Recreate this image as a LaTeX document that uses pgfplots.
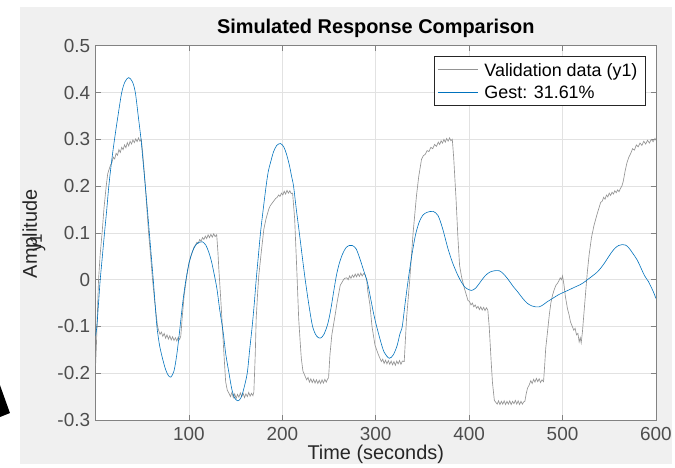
\documentclass[border=0pt]{standalone}
\usepackage{fontspec}
\setmainfont{Liberation Sans}
\usepackage{pgfplots}
\pgfplotsset{compat=1.18}

\definecolor{figbg}{RGB}{240,240,240}
\definecolor{axgray}{RGB}{130,130,130}
\definecolor{ticktext}{RGB}{77,77,77}
\definecolor{labeltext}{RGB}{38,38,38}
\definecolor{gridgray}{RGB}{226,226,226}
\definecolor{valgray}{RGB}{148,148,148}
\definecolor{gestblue}{RGB}{0,114,189}

\begin{document}
\begin{tikzpicture}

% figure window background
\path (0pt,0pt) rectangle (675pt,466pt);
\fill[figbg] (20pt,0pt) rectangle (675pt,459pt);

\begin{axis}[
at={(96pt,44pt)}, anchor=south west,
scale only axis,
width=563pt, height=376pt,
xmin=0, xmax=600,
ymin=-0.3, ymax=0.5,
xtick={100,200,300,400,500,600},
xticklabels={100,200,300,400,500,600},
ytick={-0.3,-0.2,-0.1,0,0.1,0.2,0.3,0.4,0.5},
yticklabels={-0.3,-0.2,-0.1,0,0.1,0.2,0.3,0.4,0.5},
tick align=inside,
major tick length=5pt,
tick style={axgray, line width=0.7pt},
axis line style={axgray, line width=0.8pt},
axis background/.style={fill=white},
xmajorgrids, ymajorgrids,
grid style={gridgray, line width=0.7pt},
ticklabel style={font=\fontsize{19}{22}\selectfont, text=ticktext},
yticklabel style={xshift=-2pt},
xticklabel style={yshift=-4pt},
title={Simulated Response Comparison},
title style={font=\fontsize{20}{24}\selectfont\bfseries, at={(axis description cs:0.5,1)}, anchor=base, yshift=6pt},
xlabel={Time (seconds)},
xlabel style={font=\fontsize{20}{24}\selectfont, text=labeltext, at={(axis description cs:0.5,0)}, anchor=base, yshift=-40pt},
]

\addplot [valgray, line width=0.65pt] table {%
0 -0.185
1 -0.135
2 -0.07
3.2 0.0
5 0.055
7 0.1
9 0.152
11.4 0.2
13 0.226
14.5 0.236
16 0.245
17.5 0.25
19 0.262
20.5 0.258
22 0.27
23.5 0.266
25 0.278
26.5 0.272
28 0.283
29.5 0.278
31 0.288
32.5 0.282
34 0.293
35.5 0.286
37 0.296
38.5 0.29
40 0.299
41.5 0.293
43 0.301
44.5 0.295
46 0.303
47.5 0.296
49 0.3
50.5 0.27
52 0.235
53.3 0.2
55 0.15
56.8 0.1
59 0.05
61 0.0
63.5 -0.05
66.4 -0.1
67.5 -0.108
69 -0.117
70.5 -0.112
72 -0.121
73.5 -0.115
75 -0.125
76.5 -0.118
78 -0.127
79.5 -0.12
81 -0.129
82.5 -0.122
84 -0.13
85.5 -0.124
87 -0.131
88.5 -0.123
90 -0.128
91.3 -0.12
93 -0.075
94.9 -0.033
97.5 0.005
100.2 0.038
103 0.055
105.5 0.07
107 0.074
108.5 0.08
110 0.078
111.5 0.086
113 0.082
114.5 0.09
116 0.086
117.5 0.093
119 0.088
120.5 0.096
122 0.09
123.5 0.097
125 0.091
126.5 0.098
128 0.092
129.7 0.096
131 0.06
132 0.023
134 -0.04
135.7 -0.097
137.5 -0.16
139.3 -0.218
141 -0.236
142.9 -0.243
144.5 -0.25
146 -0.241
147.5 -0.252
149 -0.244
150.5 -0.254
152 -0.245
153.5 -0.251
155 -0.242
156.5 -0.25
158 -0.243
159.5 -0.252
161 -0.244
162.5 -0.25
164 -0.241
165.5 -0.249
167 -0.243
168.5 -0.248
169.5 -0.24
171 -0.16
172 -0.083
173.5 -0.03
174.8 0.009
177.5 0.06
180.2 0.108
182.5 0.13
185.5 0.151
187 0.158
188.5 0.162
190 0.166
191.5 0.17
193 0.174
194.5 0.176
196 0.181
197.5 0.178
199 0.185
200.5 0.181
202 0.189
203.5 0.183
205 0.191
206.5 0.185
208 0.19
209.5 0.184
211 0.185
212 0.16
213.2 0.13
215.5 0.02
217.5 -0.083
219 -0.13
220.3 -0.168
222 -0.195
224.5 -0.207
226 -0.214
227.5 -0.209
229 -0.219
230.5 -0.212
232 -0.22
233.5 -0.213
235 -0.221
236.5 -0.214
238 -0.222
239.5 -0.215
241 -0.222
242.5 -0.214
244 -0.221
245.5 -0.213
247 -0.219
248.5 -0.212
249.5 -0.21
251 -0.16
253 -0.118
256.5 -0.076
258.5 -0.05
262 -0.012
265.5 0.0
267 0.003
269 0.004
270.5 0.0
272 0.008
273.5 0.003
275 0.01
276.5 0.005
278 0.012
279.5 0.006
281 0.013
282.5 0.007
284 0.014
285.5 0.008
287 0.013
288.5 0.011
290.3 0.0
291.5 -0.025
293.8 -0.054
296 -0.1
299.2 -0.14
302.8 -0.16
304.5 -0.168
306 -0.175
307.5 -0.17
309 -0.179
310.5 -0.172
312 -0.18
313.5 -0.173
315 -0.181
316.5 -0.174
318 -0.182
319.5 -0.175
321 -0.183
322.5 -0.174
324 -0.18
325.5 -0.173
327 -0.181
328.5 -0.174
330.5 -0.175
333 -0.083
336.5 0.002
340 0.1
343.6 0.179
346 0.22
349 0.257
351 0.265
353 0.268
355 0.276
357 0.274
359 0.283
361 0.28
363 0.289
365 0.285
367 0.294
368.5 0.289
370 0.297
371.5 0.292
373 0.3
374.5 0.294
376 0.302
377.5 0.296
379 0.303
380.5 0.297
382 0.3
383.5 0.26
386 0.172
388 0.09
389.8 0.03
392 0.005
395 -0.019
398.7 -0.044
400.5 -0.047
402 -0.054
403.5 -0.05
405 -0.058
406.5 -0.054
408 -0.061
409.5 -0.057
411 -0.064
412.5 -0.058
414 -0.065
415.5 -0.059
417 -0.066
418.5 -0.06
420 -0.065
421.5 -0.1
423.6 -0.175
425 -0.22
427 -0.258
428.5 -0.262
430 -0.266
431.5 -0.259
433 -0.267
434.5 -0.26
436 -0.266
437.5 -0.259
439 -0.267
440.5 -0.26
442 -0.266
443.5 -0.259
445 -0.267
446.5 -0.26
448 -0.265
449.5 -0.258
451 -0.266
452.5 -0.259
454 -0.267
455.5 -0.26
457 -0.266
458.5 -0.261
459.7 -0.26
461 -0.245
462.5 -0.232
464.3 -0.225
466 -0.216
467.5 -0.222
469 -0.213
470.5 -0.219
472 -0.211
473.5 -0.218
475 -0.212
476.5 -0.22
478 -0.214
479.7 -0.218
481 -0.18
482 -0.147
484 -0.11
485.8 -0.076
487.5 -0.05
489.3 -0.033
491 -0.022
492.9 -0.012
494.5 -0.008
496 -0.003
497.5 0.004
499 0.0
500 0.008
501.5 -0.01
503 -0.035
505.3 -0.062
507 -0.075
508.5 -0.09
510.7 -0.101
512 -0.108
513.5 -0.104
515 -0.118
516.5 -0.115
517.8 -0.133
519 -0.124
520 -0.135
521.3 -0.112
523 -0.07
524.8 -0.026
526.5 0.015
528.4 0.052
531 0.09
533.7 0.116
537 0.14
540.8 0.165
542.5 0.168
544 0.176
545.5 0.172
547 0.181
548.5 0.177
550 0.185
551.5 0.18
553 0.187
554.5 0.183
556 0.19
557.5 0.186
559 0.192
560.5 0.188
562 0.195
563.5 0.2
565 0.21
567 0.232
569 0.25
571 0.262
573 0.27
575 0.28
577 0.277
579 0.288
581 0.284
583 0.292
585 0.287
587 0.296
589 0.29
591 0.298
593 0.292
595 0.3
597 0.295
599 0.302
600 0.298
};

\addplot [gestblue, line width=0.6pt, smooth] table {%
0 -0.12
1.4 -0.1
3.2 -0.05
5 0.0
7.3 0.05
9.6 0.10
12 0.15
14.2 0.20
17 0.25
20.3 0.30
24 0.35
28 0.40
31.5 0.423
35.5 0.432
39.5 0.423
42.6 0.40
45.7 0.35
48.7 0.30
51 0.25
53.3 0.20
55.5 0.15
57.6 0.10
59.7 0.05
61.8 0.00
63.7 -0.05
65.7 -0.10
68.5 -0.14
71.8 -0.169
75 -0.192
78 -0.205
80.7 -0.208
84 -0.195
87 -0.16
90 -0.11
93 -0.055
96 -0.01
99 0.025
102 0.05
105 0.066
108 0.076
111 0.08
114.4 0.081
118 0.074
121 0.06
124 0.04
127 0.012
130 -0.02
133 -0.065
136.5 -0.11
139.5 -0.16
142.9 -0.2
146 -0.235
149 -0.253
152.4 -0.259
155.5 -0.253
158.5 -0.235
162.4 -0.2
165 -0.15
167.7 -0.1
170 -0.05
172 0.0
174.3 0.05
176.6 0.1
179.5 0.15
182.6 0.2
185 0.232
187.3 0.25
190.5 0.273
194 0.287
198 0.291
201.5 0.284
204.5 0.268
207.5 0.245
210 0.22
212 0.2
215 0.15
218.2 0.1
221.3 0.05
224.5 0.0
228.5 -0.055
232.4 -0.1
236.5 -0.12
240.6 -0.125
244.5 -0.117
248.7 -0.094
252 -0.062
255 -0.025
258 0.01
261 0.035
264.5 0.055
268 0.068
271.5 0.073
275 0.073
279 0.066
283 0.045
287 0.02
291 -0.005
295 -0.045
298 -0.075
301 -0.1
305 -0.13
309 -0.155
314.5 -0.168
319 -0.16
323 -0.14
326 -0.115
328.4 -0.1
331.5 -0.05
334.8 0.0
338.5 0.05
342.5 0.095
346.5 0.123
350.5 0.138
355 0.144
361.4 0.146
366.7 0.137
371.5 0.11
377.4 0.066
382.5 0.035
388 0.009
392 -0.006
396 -0.017
402.2 -0.023
407 -0.018
412 -0.005
417 0.008
422 0.016
427 0.019
432.4 0.019
437 0.012
442 0.0
447 -0.014
452 -0.026
457 -0.039
462 -0.05
467 -0.056
471 -0.058
475 -0.058
479 -0.054
483 -0.048
487 -0.043
491 -0.038
495 -0.033
500 -0.028
504.5 -0.024
508.8 -0.02
513 -0.016
517.5 -0.012
522 -0.007
526.7 0.0
532 0.008
537 0.016
541 0.025
544.4 0.034
548 0.045
552 0.057
556 0.067
560 0.073
564 0.075
567.5 0.074
571 0.068
575 0.057
580 0.042
584 0.025
588 0.008
592 -0.004
594 -0.012
597.5 -0.027
600 -0.04
};

\end{axis}

% legend box
\filldraw[fill=white, draw=labeltext, line width=0.6pt] (436pt,360pt) rectangle (648pt,409pt);
\draw[valgray, line width=0.65pt] (440pt,396pt) -- (480pt,396pt);
\draw[gestblue, line width=0.6pt] (440pt,373.7pt) -- (480pt,373.7pt);
\node[anchor=base west, inner sep=0pt, font=\fontsize{18}{22}\selectfont] at (486.5pt,389.6pt) {Validation data (y1)};
\node[anchor=base west, inner sep=0pt, font=\fontsize{18}{22}\selectfont] at (486.5pt,367.3pt) {Gest: 31.61\%};

% y axis label with the output name drawn over it
\node[rotate=90, font=\fontsize{20}{24}\selectfont, text=labeltext] at (32pt,231pt) {Amplitude};
\node[rotate=90, font=\fontsize{17}{20}\selectfont, text=labeltext] at (38pt,222pt) {y1};

% dark shape at the lower left corner
\fill[black] (0pt,79pt) -- (10pt,51pt) -- (0pt,47pt) -- cycle;

\end{tikzpicture}
\end{document}
